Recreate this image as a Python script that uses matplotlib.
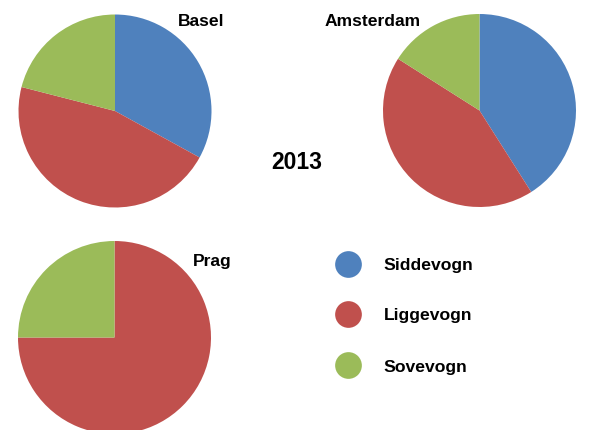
import numpy as np
import matplotlib
matplotlib.use("Agg")
import matplotlib.pyplot as plt

# data (shares in %)
categories = ["Siddevogn", "Liggevogn", "Sovevogn"]
colors = ["#4F81BD", "#C0504D", "#9BBB59"]
cities = ["Basel", "Amsterdam", "Prag"]
basel = [33, 46, 21]
amsterdam = [41, 43, 16]
prag = [0, 75, 25]
year = "2013"

W, H = 600, 444
plt.rcParams['font.family'] = ['Liberation Sans', 'DejaVu Sans']
fig = plt.figure(figsize=(W / 100, H / 100), dpi=100)
fig.patch.set_facecolor("white")

R = 96.5   # pie radius in px
PAD = 4.0  # spare room round each pie so the edges stay smooth


def draw_pie(vals, cx, cy, cut_bottom=None):
    # cx, cy in px from top-left
    left, right = cx - R - PAD, cx + R + PAD
    top = cy - R - PAD
    bottom = cy + R + PAD if cut_bottom is None else cut_bottom
    ax = fig.add_axes([left / W, (H - bottom) / H, (right - left) / W, (bottom - top) / H])
    wedges, _ = ax.pie(vals, colors=colors, startangle=90, counterclock=False,
                       radius=1, wedgeprops=dict(linewidth=0))
    for w in wedges:
        w.set_clip_on(True)
        w.set_clip_path(ax.patch)
    ax.set_aspect('auto')
    ax.set_xlim((left - cx) / R, (right - cx) / R)
    ax.set_ylim((cy - bottom) / R, (cy - top) / R)
    ax.axis('off')
    return ax


draw_pie(basel, 115, 111)
draw_pie(amsterdam, 479.5, 110.5)
draw_pie(prag, 114.5, 337.5, cut_bottom=430)

# overlay in pixel coordinates for texts and legend
ov = fig.add_axes([0, 0, 1, 1], facecolor='none')
ov.set_xlim(0, W)
ov.set_ylim(H, 0)
ov.axis('off')

fs = 12.6
ov.text(178, 26, cities[0], fontsize=fs, fontweight='bold', va='baseline')
ov.text(325, 26.5, cities[1], fontsize=fs, fontweight='bold', va='baseline')
ov.text(193, 265.5, cities[2], fontsize=fs, fontweight='bold', va='baseline')
ov.text(271, 169.3, year, fontsize=16.5, fontweight='bold', va='baseline')

leg_y = [263.7, 313.5, 365.3]
for y, c, lab in zip(leg_y, colors, categories):
    ov.scatter([348], [y], s=370, color=c, linewidths=0)
    ov.text(383.5, y + 6.3, lab, fontsize=fs, fontweight='bold', va='baseline')

fig.savefig("out.png", dpi=100)
